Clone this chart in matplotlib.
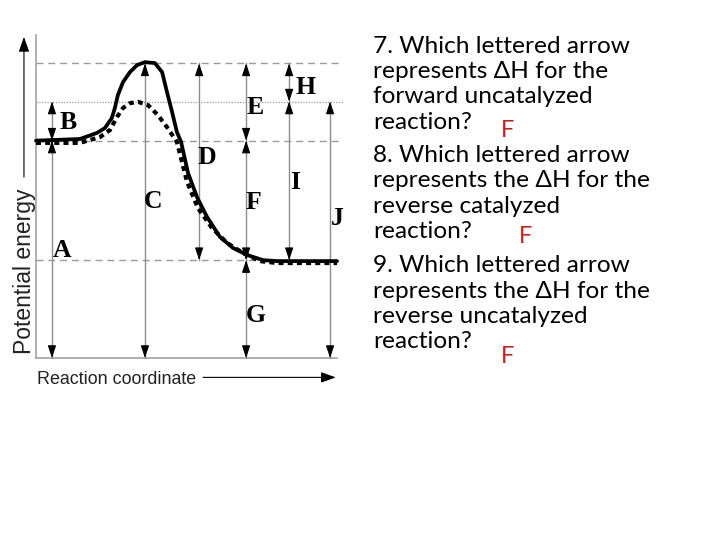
import matplotlib.pyplot as plt
from matplotlib import font_manager

# energy levels of the diagram (arbitrary units, 0-100)
reactant_E = 67.3
product_E = 30.3
peak_uncat_E = 91.2
peak_cat_E = 79.4

# uncatalyzed path (solid)
uncat_x = [0, 14.6, 20.3, 22.9, 25.2, 26.2, 27.2, 28.9, 31.2, 33.6, 36.2, 39.5, 41.9,
           43.5, 45.2, 46.8, 48.2, 50.5, 53.5, 56.8, 61.1, 65.4, 70.1, 75.4, 80.1, 100]
uncat_y = [67.3, 67.8, 69.7, 71.2, 74.3, 77.4, 81.4, 85.4, 88.5, 90.7, 91.6, 91.3, 88.5,
           82.4, 76.2, 70.0, 66.9, 57.3, 49.8, 43.7, 37.5, 34.1, 31.9, 30.3, 30.0, 30.0]

# catalyzed path (dashed)
cat_x = [0, 14.6, 21.3, 24.6, 26.9, 28.9, 31.2, 33.9, 37.2, 40.5, 43.5, 46.8,
         50.2, 53.8, 58.5, 63.5, 68.8, 74.4, 80.1, 100]
cat_y = [66.6, 66.6, 68.4, 70.6, 74.6, 77.4, 78.9, 79.3, 78.3, 75.2, 71.5, 66.9,
         54.5, 46.4, 40.2, 35.6, 32.5, 30.0, 29.4, 29.4]

# lettered arrows
arrow_labels = ['A', 'B', 'C', 'D', 'E', 'F', 'G', 'H', 'I', 'J']
arrow_x = [5.3, 5.3, 36.2, 54.2, 69.8, 69.8, 69.8, 84.1, 84.1, 97.7]
arrow_lo = [0, reactant_E, 0, product_E, reactant_E, product_E, 0, peak_cat_E, product_E, 0]
arrow_hi = [reactant_E, peak_cat_E, peak_uncat_E, peak_uncat_E, peak_uncat_E,
            reactant_E, product_E, peak_uncat_E, peak_cat_E, peak_cat_E]

# question text
question_lines = [
    ['7. Which lettered arrow', 'represents \u0394H for the', 'forward uncatalyzed', 'reaction?'],
    ['8. Which lettered arrow', 'represents the \u0394H for the', 'reverse catalyzed', 'reaction?'],
    ['9. Which lettered arrow', 'represents the \u0394H for the', 'reverse uncatalyzed', 'reaction?'],
]
answers = ['F', 'F', 'F']


def pick(names):
    have = {f.name for f in font_manager.fontManager.ttflist}
    return [n for n in names if n in have] + ['DejaVu Sans']


sans = pick(['Liberation Sans Narrow', 'Liberation Sans'])
serif = pick(['Liberation Serif', 'DejaVu Serif'])
body = pick(['Lato', 'Open Sans'])

GRAY = '#9a9a9a'
SHAFT = '#8c8c8c'

fig = plt.figure(figsize=(7.2, 5.4), dpi=100)
ax = fig.add_axes([36 / 720, (540 - 358) / 540, 301 / 720, 323 / 540])
ax.set_xlim(0, 100)
ax.set_ylim(0, 100)
ax.axis('off')

# frame lines
ax.plot([0, 0], [0, 100], color=GRAY, lw=1.1, clip_on=False)
ax.plot([0, 100], [0, 0], color=GRAY, lw=1.1, clip_on=False)

# reference levels
for e, ls in [(peak_uncat_E, (0, (5, 3.5))), (reactant_E, (0, (5, 3.5))),
              (product_E, (0, (5, 3.5))), (peak_cat_E, (0, (1, 1.2)))]:
    ax.plot([0, 102], [e, e], color=GRAY, lw=1.0 if ls[1][0] > 1 else 0.9,
            linestyle=ls, clip_on=False)


def head(x, y, dy):
    ax.annotate('', xy=(x, y), xytext=(0, dy), textcoords='offset points',
                arrowprops=dict(arrowstyle='-|>,head_length=0.75,head_width=0.25',
                                color='black', lw=0.8, shrinkA=0, shrinkB=0))


for x, lo, hi in zip(arrow_x, arrow_lo, arrow_hi):
    ax.plot([x, x], [lo, hi], color=SHAFT, lw=1.0, clip_on=False)
    head(x, hi, -8)
    head(x, lo, 8)

label_xy = {'A': (8.6, 33.4), 'B': (10.6, 72.8), 'C': (38.9, 48.3), 'D': (56.8, 62.2),
            'E': (72.8, 77.4), 'F': (72.1, 48.0), 'G': (73.1, 13.3), 'H': (89.4, 83.9),
            'I': (86.0, 54.2), 'J': (100.2, 43.3)}
for lab in arrow_labels:
    lx, ly = label_xy[lab]
    ax.text(lx, ly, lab, family=serif, fontweight='bold', fontsize=18.5,
            ha='center', va='center')

# reaction paths
ax.plot(cat_x, cat_y, color='black', lw=3.0, linestyle=(0, (1.2, 1.0)),
        solid_capstyle='butt', clip_on=False)
ax.plot(uncat_x, uncat_y, color='black', lw=2.7, solid_capstyle='round',
        solid_joinstyle='round', clip_on=False)

# axis titles with arrows
ax.annotate('', xy=(-4.0, 99.4), xytext=(-4.0, 56.0),
            arrowprops=dict(arrowstyle='-|>,head_length=0.9,head_width=0.32',
                            color='black', lw=0.8, shrinkA=0, shrinkB=0),
            annotation_clip=False)
fig.text(25 / 720, 1 - 271 / 540, 'Potential energy', family=sans, fontsize=16.5,
         rotation=90, ha='center', va='center', color='#222222')
fig.text(37 / 720, 1 - 384 / 540, 'Reaction coordinate', family=sans, fontsize=12.9,
         ha='left', va='baseline', color='#222222')
ax.annotate('', xy=(99.6, -6.0), xytext=(55.5, -6.0),
            arrowprops=dict(arrowstyle='-|>,head_length=0.9,head_width=0.32',
                            color='black', lw=0.8, shrinkA=0, shrinkB=0),
            annotation_clip=False)

# questions
baselines = [[52.7, 77.7, 102.7, 129], [162, 187, 213, 238], [272, 298, 323, 348]]
answer_pos = [(501, 137), (519, 243), (501, 363)]
for lines, ys, ans, (axp, ayp) in zip(question_lines, baselines, answers, answer_pos):
    for txt, yb in zip(lines, ys):
        fig.text(373 / 720, 1 - yb / 540, txt, family=body, fontsize=17.6,
                 ha='left', va='baseline', color='black')
    fig.text(axp / 720, 1 - ayp / 540, ans, family=body, fontsize=17,
             ha='left', va='baseline', color='#c8201e')

fig.savefig('out.png', dpi=100, facecolor='white')
